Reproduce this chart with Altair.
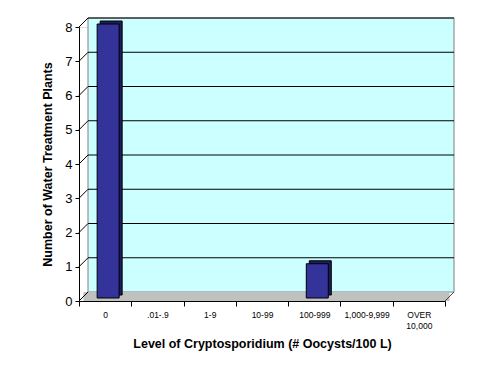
import altair as alt
import pandas as pd

categories = ["0", ".01-.9", "1-9", "10-99", "100-999", "1,000-9,999", "OVER 10,000"]
plants = [8, 0, 0, 0, 1, 0, 0]
grid_levels = [0, 1, 2, 3, 4, 5, 6, 7, 8]

FONT = "Liberation Sans"
W, H = 366, 274
DX, DY = 9, -9      # depth offset of the back wall
BDX, BDY = 3, -3    # depth offset of bar faces

bars = pd.DataFrame({"level": categories, "plants": plants})
grid = pd.DataFrame({"v": grid_levels})

xs = alt.Scale(domain=categories, paddingInner=0, paddingOuter=0)
ys = alt.Scale(domain=[0, 8], nice=False)

x_axis = alt.Axis(
    labelAngle=0, tickBand="extent", tickSize=5, labelPadding=4,
    labelFontSize=8.5, labelFont=FONT, labelColor="black",
    labelAlign="center", labelOverlap=False, labelBound=False,
    labelExpr="datum.label == 'OVER 10,000' ? ['OVER', '10,000'] : datum.label",
    labelLineHeight=11,
    titleFont=FONT, titleFontSize=12.5, titleFontWeight="bold",
    titleColor="black", titlePadding=8,
    domainColor="black", tickColor="black",
)
y_axis = alt.Axis(
    values=grid_levels, tickSize=4, labelPadding=3, grid=False,
    labelOverlap=False, labelFlush=False,
    labelFontSize=13, labelFont=FONT, labelColor="black",
    titleFont=FONT, titleFontSize=12.5, titleFontWeight="bold",
    titleColor="black", titlePadding=10,
    domainColor="black", tickColor="black",
)
X_TITLE = "Level of Cryptosporidium (# Oocysts/100 L)"
Y_TITLE = "Number of Water Treatment Plants"

# back wall
wall = alt.Chart(grid).transform_filter("datum.v == 0").mark_rect(
    fill="#ccffff", stroke="#808080", strokeWidth=1
).encode(x=alt.value(DX), x2=alt.value(W + DX), y=alt.value(DY), y2=alt.value(H + DY))

# floor
floor = alt.Chart(grid).transform_filter("datum.v == 0").mark_rect(
    fill="#c0c0c0"
).encode(x=alt.value(DX / 2), x2=alt.value(W + DX / 2), y=alt.value(H + DY), y2=alt.value(H))

floor_edges = alt.Chart(grid).transform_filter("datum.v == 0").mark_rule(
    color="#404040", strokeWidth=1
).encode(x=alt.value(W), x2=alt.value(W + DX), y=alt.value(H), y2=alt.value(H + DY))

# wall gridlines
wall_grid = alt.Chart(grid).transform_filter("datum.v > 0").mark_rule(
    color="black", strokeWidth=1, yOffset=DY, y2Offset=DY
).encode(
    x=alt.value(DX), x2=alt.value(W + DX),
    y=alt.Y("v:Q", scale=ys, axis=y_axis, title=Y_TITLE), y2="v:Q",
)

# side-wall diagonals
diag = alt.Chart(grid).mark_rule(
    color="black", strokeWidth=1, y2Offset=DY
).encode(
    x=alt.value(0), x2=alt.value(DX),
    y=alt.Y("v:Q", scale=ys, axis=y_axis, title=Y_TITLE), y2="v:Q",
)

# bar back/side (dark)
bar_back = alt.Chart(bars).transform_filter("datum.plants > 0").mark_bar(
    color="#1c1c5e", stroke="black", strokeWidth=1, size=22,
    xOffset=2 * BDX, yOffset=2 * BDY, y2Offset=2 * BDY
).encode(
    x=alt.X("level:N", scale=xs, sort=categories, axis=x_axis, title=X_TITLE),
    y=alt.Y("plants:Q", scale=ys, axis=y_axis, title=Y_TITLE),
    y2=alt.datum(0),
)

bar_front = alt.Chart(bars).transform_filter("datum.plants > 0").mark_bar(
    color="#333399", stroke="black", strokeWidth=1, size=22,
    xOffset=BDX, yOffset=BDY, y2Offset=BDY
).encode(
    x=alt.X("level:N", scale=xs, sort=categories, axis=x_axis, title=X_TITLE),
    y=alt.Y("plants:Q", scale=ys, axis=y_axis, title=Y_TITLE),
    y2=alt.datum(0),
)

chart = alt.layer(
    wall, floor, floor_edges, wall_grid, diag, bar_back, bar_front
).properties(
    width=W, height=H,
    autosize=alt.AutoSizeParams(type="none"),
    padding={"left": 71, "top": 19, "right": 38, "bottom": 65},
).configure_view(stroke=None).configure(background="white")

chart.save("out.html", embed_options={"renderer": "svg", "actions": False})
